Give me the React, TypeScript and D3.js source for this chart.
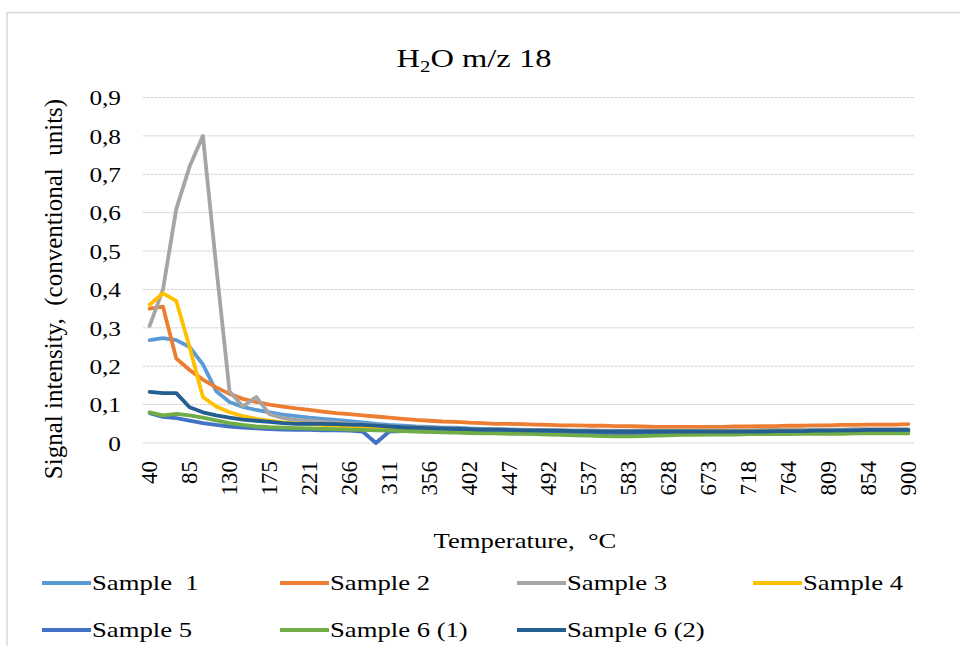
import React from "react";
import * as d3 from "d3";

const categories: number[] = [
  40, 55, 70, 85, 100, 115, 130, 145, 160, 175,
  190, 205, 221, 236, 251, 266, 281, 296, 311, 326,
  341, 356, 371, 387, 402, 417, 432, 447, 462, 477,
  492, 507, 522, 537, 552, 568, 583, 598, 613, 628,
  643, 658, 673, 688, 703, 718, 734, 749, 764, 779,
  794, 809, 824, 839, 854, 869, 884, 900,
];

const sample1: number[] = [
  0.268, 0.273, 0.268, 0.25, 0.205, 0.135, 0.107, 0.094, 0.086, 0.08,
  0.074, 0.07, 0.066, 0.063, 0.06, 0.057, 0.054, 0.05, 0.047, 0.045,
  0.043, 0.042, 0.04, 0.04, 0.038, 0.037, 0.036, 0.035, 0.034, 0.033,
  0.032, 0.032, 0.031, 0.03, 0.03, 0.03, 0.029, 0.029, 0.029, 0.029,
  0.029, 0.03, 0.03, 0.03, 0.03, 0.03, 0.03, 0.031, 0.031, 0.031,
  0.032, 0.032, 0.032, 0.033, 0.033, 0.033, 0.034, 0.034,
];
const sample2: number[] = [
  0.35, 0.355, 0.22, 0.19, 0.165, 0.145, 0.128, 0.115, 0.107, 0.1,
  0.095, 0.09, 0.086, 0.082, 0.078, 0.075, 0.072, 0.069, 0.066, 0.063,
  0.06, 0.058, 0.056, 0.055, 0.053, 0.052, 0.05, 0.05, 0.049, 0.048,
  0.047, 0.046, 0.046, 0.045, 0.045, 0.044, 0.044, 0.043, 0.042, 0.042,
  0.042, 0.042, 0.042, 0.042, 0.043, 0.043, 0.044, 0.044, 0.045, 0.045,
  0.046, 0.046, 0.047, 0.047, 0.048, 0.048, 0.048, 0.049,
];
const sample3: number[] = [
  0.305, 0.4, 0.61, 0.72, 0.8, 0.46, 0.135, 0.095, 0.12, 0.075,
  0.065, 0.06, 0.058, 0.055, 0.053, 0.05, 0.048, 0.046, 0.044, 0.042,
  0.041, 0.04, 0.039, 0.038, 0.037, 0.036, 0.036, 0.035, 0.035, 0.034,
  0.034, 0.033, 0.033, 0.033, 0.032, 0.032, 0.032, 0.032, 0.032, 0.032,
  0.032, 0.032, 0.033, 0.033, 0.033, 0.033, 0.034, 0.034, 0.034, 0.035,
  0.035, 0.035, 0.035, 0.036, 0.036, 0.036, 0.036, 0.036,
];
const sample4: number[] = [
  0.36, 0.39, 0.37, 0.25, 0.12, 0.095, 0.08, 0.07, 0.063, 0.058,
  0.054, 0.051, 0.049, 0.047, 0.045, 0.043, 0.042, 0.04, 0.039, 0.038,
  0.037, 0.036, 0.035, 0.034, 0.033, 0.033, 0.032, 0.031, 0.031, 0.03,
  0.03, 0.03, 0.029, 0.029, 0.029, 0.029, 0.029, 0.029, 0.029, 0.029,
  0.029, 0.029, 0.03, 0.03, 0.03, 0.03, 0.03, 0.03, 0.03, 0.031,
  0.031, 0.031, 0.031, 0.031, 0.031, 0.032, 0.032, 0.032,
];
const sample5: number[] = [
  0.078, 0.068, 0.065, 0.058, 0.052, 0.047, 0.043, 0.04, 0.038, 0.036,
  0.035, 0.034, 0.034, 0.033, 0.033, 0.032, 0.03, 0.0, 0.03, 0.031,
  0.031, 0.03, 0.03, 0.03, 0.029, 0.029, 0.028, 0.028, 0.028, 0.027,
  0.027, 0.026, 0.026, 0.026, 0.026, 0.026, 0.026, 0.026, 0.026, 0.026,
  0.026, 0.026, 0.026, 0.026, 0.026, 0.027, 0.027, 0.027, 0.027, 0.027,
  0.028, 0.028, 0.028, 0.028, 0.029, 0.029, 0.029, 0.029,
];
const sample6a: number[] = [
  0.08, 0.072, 0.076, 0.072, 0.066, 0.059, 0.052, 0.047, 0.043, 0.041,
  0.04, 0.039, 0.038, 0.037, 0.036, 0.035, 0.034, 0.033, 0.032, 0.031,
  0.03, 0.029, 0.028, 0.027, 0.026, 0.025, 0.025, 0.024, 0.024, 0.023,
  0.022, 0.021, 0.02, 0.019, 0.018, 0.017, 0.017, 0.018, 0.019, 0.02,
  0.021, 0.021, 0.022, 0.022, 0.022, 0.023, 0.023, 0.023, 0.023, 0.024,
  0.024, 0.024, 0.024, 0.025, 0.025, 0.025, 0.025, 0.025,
];
const sample6b: number[] = [
  0.133, 0.13, 0.13, 0.093, 0.08, 0.072, 0.066, 0.061, 0.058, 0.055,
  0.052, 0.05, 0.05, 0.05, 0.049, 0.048, 0.047, 0.045, 0.043, 0.041,
  0.04, 0.039, 0.038, 0.037, 0.036, 0.035, 0.035, 0.034, 0.033, 0.033,
  0.032, 0.032, 0.031, 0.031, 0.03, 0.03, 0.03, 0.03, 0.03, 0.03,
  0.03, 0.03, 0.03, 0.03, 0.03, 0.03, 0.03, 0.031, 0.031, 0.031,
  0.032, 0.032, 0.033, 0.033, 0.034, 0.034, 0.034, 0.034,
];

const seriesNames: string[] = [
  "Sample  1", "Sample 2", "Sample 3", "Sample 4", "Sample 5", "Sample 6 (1)", "Sample 6 (2)",
];
const seriesColors: string[] = [
  "#5B9BD5", "#ED7D31", "#A5A5A5", "#FFC000", "#4472C4", "#70AD47", "#255E91",
];
const seriesValues: number[][] = [sample1, sample2, sample3, sample4, sample5, sample6a, sample6b];
const yTicks: number[] = [0, 0.1, 0.2, 0.3, 0.4, 0.5, 0.6, 0.7, 0.8, 0.9];

const W = 960;
const H = 646;
const FONT = "'Liberation Serif', 'Times New Roman', serif";

export default function App() {
  const x = d3.scaleBand<number>().domain(categories).range([143, 915]).padding(0);
  const y = d3.scaleLinear().domain([0, 0.9]).range([443, 97.5]);
  const cx = (c: number) => (x(c) as number) + x.bandwidth() / 2;
  const line = d3
    .line<number>()
    .x((_, i) => cx(categories[i]))
    .y((d) => y(d));
  const fmt = (v: number) => (v === 0 ? "0" : d3.format(".1f")(v).replace(".", ","));

  const legendCols = [42, 280, 517, 753];
  const legendRows = [583, 630];
  const SX = 1.27;

  return (
    <svg
      width={W}
      height={H}
      style={{ position: "absolute", left: 0, top: 0, background: "#fff" }}
      fontFamily={FONT}
    >
      <rect x={0} y={0} width={W} height={H} fill="#fff" />
      <rect x={7} y={12.5} width={W + 20} height={H + 20} fill="none" stroke="#d9d9d9" strokeWidth={1.5} />
      <g transform={`translate(474,67) scale(1.3,1)`}>
        <text x={0} y={0} textAnchor="middle" fontSize={25} fill="#000">
          H<tspan fontSize={16} dy={5}>2</tspan>
          <tspan dy={-5}>O m/z 18</tspan>
        </text>
      </g>
      {yTicks.map((t) => (
        <g key={t}>
          <line
            x1={143}
            x2={915}
            y1={y(t)}
            y2={y(t)}
            stroke="#d0d0d0"
            strokeWidth={1}
            strokeDasharray="3 1"
          />
          <text
            transform={`translate(121,${y(t)}) scale(1.15,1)`}
            dy="0.35em"
            textAnchor="end"
            fontSize={22}
            fill="#000"
          >
            {fmt(t)}
          </text>
        </g>
      ))}
      {categories
        .filter((_, i) => i % 3 === 0)
        .map((c) => (
          <text
            key={c}
            transform={`translate(${cx(c) + 7.5},461) rotate(-90)`}
            textAnchor="end"
            fontSize={23}
            fill="#000"
          >
            {c}
          </text>
        ))}
      {seriesValues.map((vals, si) => (
        <path
          key={si}
          d={line(vals) || ""}
          fill="none"
          stroke={seriesColors[si]}
          strokeWidth={3.8}
          strokeLinejoin="round"
          strokeLinecap="round"
        />
      ))}
      <text
        transform={`translate(62,289) rotate(-90)`}
        textAnchor="middle"
        fontSize={25}
        fill="#000"
        style={{ whiteSpace: "pre" }}
      >
        {"Signal intensity,  (conventional  units)"}
      </text>
      <g transform={`translate(525,548) scale(${SX},1)`}>
        <text x={0} y={0} textAnchor="middle" fontSize={21} fill="#000" style={{ whiteSpace: "pre" }}>
          {"Temperature,  °C"}
        </text>
      </g>
      {seriesNames.map((name, i) => {
        const col = i % 4;
        const row = Math.floor(i / 4);
        const lx = legendCols[col];
        const ly = legendRows[row];
        return (
          <g key={name}>
            <line x1={lx} x2={lx + 49} y1={ly} y2={ly} stroke={seriesColors[i]} strokeWidth={4} />
            <g transform={`translate(${lx + 50},${ly}) scale(${SX},1)`}>
              <text x={0} y={0} dy="0.33em" fontSize={21} fill="#000" style={{ whiteSpace: "pre" }}>
                {name}
              </text>
            </g>
          </g>
        );
      })}
    </svg>
  );
}
